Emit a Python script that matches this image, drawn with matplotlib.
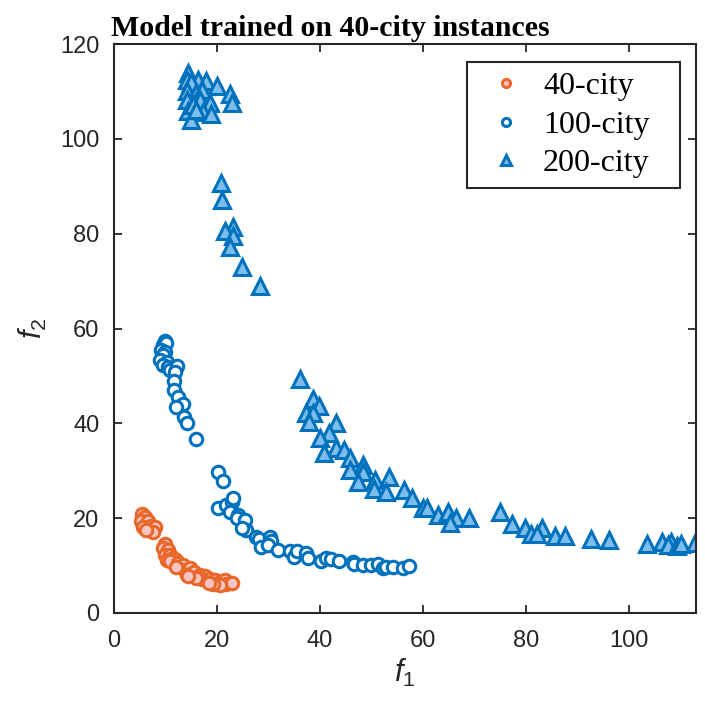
#!/usr/bin/env python3
# -*- coding: utf-8 -*
import matplotlib
matplotlib.use('Agg')
import matplotlib.pyplot as plt
import numpy as np

# 40-city instances
f1_40 = [5.5, 6.1, 5.3, 6.7, 5.8, 7.3, 8.0, 7.7, 6.4,
         10.0, 9.7, 10.6, 10.0, 10.9, 11.6, 10.3, 12.2, 10.9, 12.5, 13.5,
         13.8, 14.8, 14.2, 15.1, 15.7, 16.7, 17.7, 17.1, 18.7, 19.6,
         20.6, 21.6, 21.9, 22.9, 20.6, 19.4, 18.5, 16.1, 12.2, 14.5]
f2_40 = [20.9, 20.3, 19.3, 19.3, 18.2, 18.4, 18.1, 17.1, 17.5,
         14.6, 13.7, 13.3, 12.2, 12.2, 11.5, 11.2, 11.2, 10.9, 10.5, 10.1,
         9.1, 9.4, 8.0, 8.3, 8.7, 8.0, 7.7, 7.2, 7.1, 6.9,
         6.6, 6.9, 6.1, 6.3, 5.9, 6.2, 6.4, 7.3, 9.8, 7.7]

# 100-city instances
f1_100 = [10.0, 9.6, 10.2, 9.3, 10.0, 9.6, 9.0, 10.3, 9.6, 10.6, 10.9, 12.4,
          11.9, 11.7, 11.7, 12.5, 13.5, 12.1, 13.6, 14.2, 16.0,
          20.3, 21.3, 20.3, 21.9, 22.9, 23.2, 22.6, 24.2, 24.0, 25.5, 25.8,
          24.9, 27.7, 28.3, 28.7, 30.3, 30.6, 30.0, 31.9, 34.2, 35.1, 35.7,
          37.4, 37.7, 40.3, 41.3, 42.2, 43.7, 46.4, 46.7, 48.4, 50.0, 51.4,
          52.2, 52.8, 54.2, 56.1, 57.4]
f2_100 = [57.4, 56.5, 57.0, 55.5, 55.1, 54.4, 53.4, 53.0, 52.3, 51.9, 51.2, 52.1,
          50.9, 48.9, 47.0, 45.5, 44.1, 43.4, 41.3, 40.1, 36.7,
          29.8, 27.9, 22.1, 22.8, 23.5, 24.2, 21.4, 20.7, 20.0, 19.6, 17.5,
          18.0, 16.1, 15.6, 14.0, 16.1, 15.2, 14.3, 13.3, 13.1, 11.9, 13.0,
          12.6, 11.5, 11.0, 11.7, 11.3, 11.0, 10.8, 10.3, 10.1, 10.1, 10.3,
          9.4, 9.7, 9.8, 9.4, 9.9]

# 200-city instances
f1_200 = [14.5, 14.3, 16.4, 17.9, 20.0, 15.1, 22.7, 22.9, 14.3, 16.0, 17.1,
          14.3, 16.7, 18.7, 14.5, 17.4, 19.0, 15.1, 15.5, 16.1,
          20.9, 21.1, 23.2, 21.6, 23.2, 22.6, 25.0, 28.4,
          36.1, 38.7, 39.8, 37.4, 38.8, 38.0, 43.1, 41.8, 40.1, 43.1, 44.8,
          40.8, 45.8, 48.4, 45.9, 48.5, 50.8, 53.4, 47.4, 50.6, 52.8, 56.4,
          58.0, 60.0, 60.9, 62.9, 65.0, 66.4, 65.3, 69.0, 75.0, 77.3, 79.9,
          81.0, 83.1, 82.2, 85.7, 87.6, 92.6, 96.1, 103.5, 106.4, 108.1,
          107.6, 109.4, 110.2, 112.9]
f2_200 = [113.9, 112.4, 112.4, 112.2, 111.2, 112.0, 109.4, 107.5, 110.0, 109.6, 110.4,
          108.2, 108.2, 107.5, 105.9, 105.7, 105.2, 104.0, 107.1, 106.0,
          90.7, 87.1, 81.5, 80.6, 79.5, 77.1, 73.0, 69.0,
          49.3, 45.1, 43.7, 42.1, 42.1, 40.3, 40.0, 37.9, 37.0, 34.9, 34.4,
          33.8, 32.6, 31.2, 30.2, 29.8, 28.0, 28.6, 27.7, 26.1, 25.6, 25.9,
          24.2, 22.1, 22.1, 20.7, 21.4, 20.0, 19.0, 20.0, 21.4, 18.8, 17.9,
          16.7, 17.9, 16.7, 16.3, 16.2, 15.6, 15.5, 14.5, 15.0, 15.0,
          14.4, 14.1, 14.5, 14.8]

plt.rcParams['font.family'] = ['Liberation Sans', 'DejaVu Sans']
plt.rcParams['mathtext.fontset'] = 'custom'
plt.rcParams['mathtext.it'] = 'Liberation Sans:italic'
plt.rcParams['mathtext.rm'] = 'Liberation Sans'

fig = plt.figure(figsize=(7.05, 7.05), dpi=100)
ax = fig.add_axes([0.161, 0.1305, 0.826, 0.807])

blue = '#0072BD'
orange = '#E8682A'

ax.plot(f1_40, f2_40, 'o', ms=9, mec=orange, mfc='#F7C4C4', mew=2.2,
        label='40-city')
ax.plot(f1_100, f2_100, 'o', ms=9, mec=blue, mfc='white', mew=2.2,
        label='100-city')
ax.plot(f1_200, f2_200, '^', ms=11, mec=blue, mfc='#7DBDEB', mew=2.2,
        label='200-city')

ax.set_xlim(0, 113)
ax.set_ylim(0, 120)
ax.set_xticks(np.arange(0, 101, 20))
ax.set_yticks(np.arange(0, 121, 20))
ax.tick_params(direction='in', length=6, width=1.3, top=True, right=True,
               labelsize=17, colors='#262626')
ax.tick_params(axis='x', pad=12)
ax.tick_params(axis='y', pad=10)
for s in ax.spines.values():
    s.set_linewidth(1.5)
    s.set_color('#262626')

ax.set_xlabel('$f_1$', fontsize=22, color='#262626', labelpad=4)
ax.set_ylabel('$f_2$', fontsize=22, color='#262626', labelpad=8)

ax.set_title('Model trained on 40-city instances', loc='left', x=-0.005,
             fontsize=21.5, fontweight='bold', family='Liberation Serif', pad=6)

# legend box stretched to the width of the original one
leg = ax.legend(loc='upper left', bbox_to_anchor=(0.607, 0.6, 0.365, 0.368),
                mode='expand', borderaxespad=0,
                prop={'family': 'Liberation Serif', 'size': 23},
                markerscale=0.65, fancybox=False, edgecolor='#262626',
                framealpha=1, handlelength=1.84, handletextpad=0.24,
                borderpad=0.3, labelspacing=0.29)
leg.get_frame().set_linewidth(1.5)

plt.savefig('out.png', dpi=100)
